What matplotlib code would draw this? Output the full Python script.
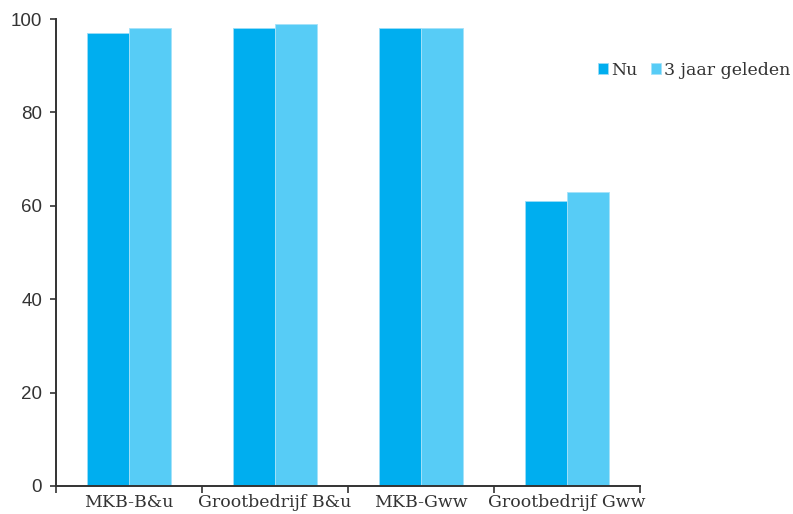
import numpy as np
import matplotlib.pyplot as plt

# Categorieën en waarden (procent)
categories = ['MKB-B&u', 'Grootbedrijf B&u', 'MKB-Gww', 'Grootbedrijf Gww']
nu = [97, 98, 98, 61]
drie_jaar = [98, 99, 98, 63]
series = ['Nu', '3 jaar geleden']

kleur_nu = '#00AEEF'
kleur_oud = '#57CCF6'

fig = plt.figure(figsize=(7.93, 5.14), dpi=100)
ax = fig.add_axes([0.0706, 0.0545, 0.7364, 0.9085])

x = np.arange(len(categories))
w = 0.285
ax.bar(x - w / 2, nu, w, color=kleur_nu, edgecolor='#9BDDF7', linewidth=0.6, label=series[0])
ax.bar(x + w / 2, drie_jaar, w, color=kleur_oud, edgecolor='#A5E2F9', linewidth=0.6, label=series[1])

ax.set_xlim(-0.5, len(categories) - 0.5)
ax.set_ylim(0, 100)
ax.set_yticks(np.arange(0, 101, 20))
ax.set_xticks(np.arange(-0.5, len(categories), 1))
ax.set_xticklabels([])
ax.set_xticks(x, minor=True)
ax.set_xticklabels(categories, minor=True, family='DejaVu Serif', fontsize=12.5, color='#333333')
ax.tick_params(axis='x', which='minor', length=0, pad=6)
ax.tick_params(axis='x', which='major', length=5, width=1.2, color='#333333')
ax.tick_params(axis='y', length=4, width=1.2, color='#333333', labelsize=13.5, labelcolor='#333333', pad=6)
for lbl in ax.get_yticklabels():
    lbl.set_family('Liberation Sans')

for s in ['top', 'right']:
    ax.spines[s].set_visible(False)
for s in ['left', 'bottom']:
    ax.spines[s].set_linewidth(1.4)
    ax.spines[s].set_color('#333333')

fig.legend(loc='upper right', bbox_to_anchor=(1.01, 0.90), ncol=2, frameon=False,
           prop={'family': 'DejaVu Serif', 'size': 12.5}, labelcolor='#333333',
           handlelength=0.55, handleheight=0.55, handletextpad=0.2, columnspacing=0.8,
           borderaxespad=0.2)

fig.savefig('out.png', dpi=100)
